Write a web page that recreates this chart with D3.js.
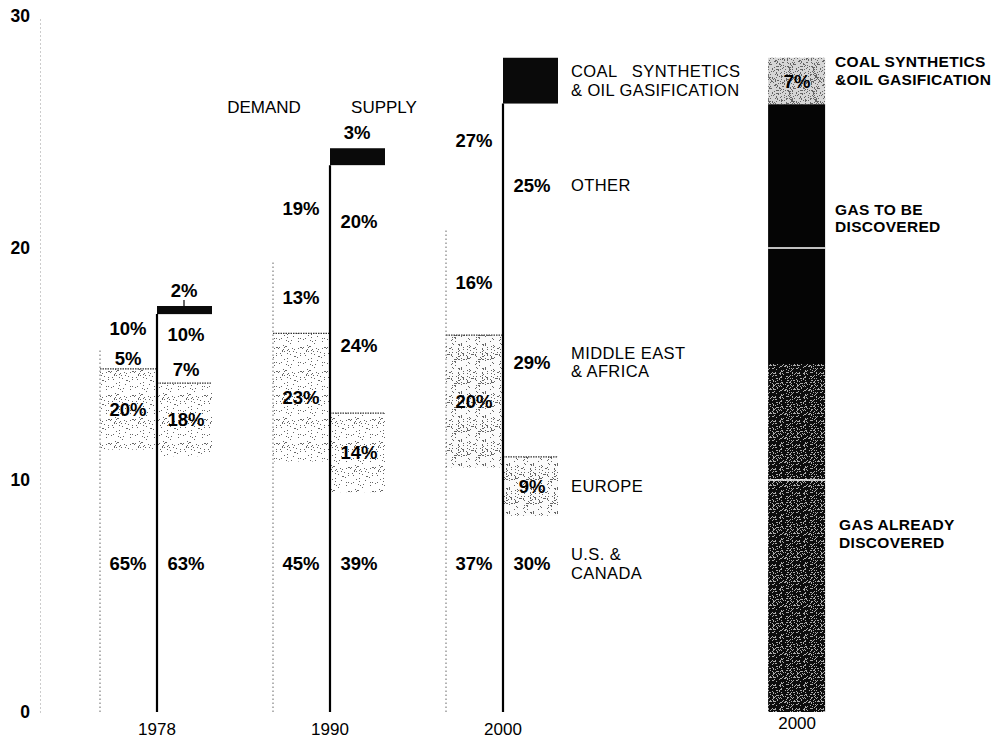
<!DOCTYPE html>
<html><head><meta charset="utf-8">
<script src="https://cdn.jsdelivr.net/npm/d3@7/dist/d3.min.js"></script>
<style>
body{margin:0;background:#fff;}
svg{display:block;}
text{font-family:"Liberation Sans",Arial,Helvetica,sans-serif;fill:#000;white-space:pre;}
</style></head><body>
<svg id="chart" width="1004" height="744"></svg>
<script>
// ---------- data ----------
const years = ["1978", "1990", "2000"];
const demandTotals = [17.4, 24.0, 28.5];
const supplyTotals = [17.5, 24.3, 28.2];
const demandShares = [[65, 20, 5, 10], [45, 23, 13, 19], [37, 20, 16, 27]];
const supplyShares = [[63, 18, 7, 10, 2], [39, 14, 24, 20, 3], [30, 9, 29, 25, 7]];
const supplyRegions = [["U.S. &", "CANADA"], ["EUROPE"], ["MIDDLE EAST", "& AFRICA"], ["OTHER"], ["COAL   SYNTHETICS", "& OIL GASIFICATION"]];
const resourceYear = "2000";
const resourceNames = [["GAS ALREADY", "DISCOVERED"], ["GAS TO BE", "DISCOVERED"], ["COAL SYNTHETICS", "&OIL GASIFICATION"]];
const resourceValues = [15.0, 11.2, 2.0];
const resourceShareLabels = [null, null, "7%"];
const yTicks = [0, 10, 20, 30];
const headers = ["DEMAND", "SUPPLY"];
const columnIndex = [0, 1, 2, 3.7]; // three year pairs + resource bar

// ---------- setup ----------
const svg = d3.select("#chart");
const y = d3.scaleLinear().domain([0, 30]).range([712, 16]);
const x = d3.scaleLinear().domain([0, 1]).range([157, 330]);
const bw = 57;
const PCT = 18.5, LAB = 16.5, LEAD = 18.5;

// textures
const defs = svg.append("defs");
function hash(i, s) { let h = (i * 374761393 + s * 668265263) >>> 0; h = (h ^ (h >>> 13)) * 1274126177 >>> 0; return (h ^ (h >>> 16)) >>> 0; }
function stipple(id, bg, dot, count, size, seed) {
  const p = defs.append("pattern").attr("id", id).attr("patternUnits", "userSpaceOnUse")
    .attr("width", size).attr("height", size);
  p.append("rect").attr("width", size).attr("height", size).attr("fill", bg);
  for (let i = 0; i < count; i++) {
    p.append("rect").attr("x", hash(i, seed) % size).attr("y", hash(i, seed + 7) % size)
      .attr("width", 1).attr("height", 1).attr("fill", dot);
  }
}
stipple("light", "#fff", "#666", 44, 24, 3);
stipple("lightDense", "#fbfbfb", "#666", 80, 24, 11);
stipple("dark", "#0c0c0c", "#aaa", 150, 24, 5);
stipple("coal", "#d6d6d6", "#666", 170, 24, 9);

// axis
const axis = d3.axisLeft(y).tickValues(yTicks).tickSize(0).tickPadding(10);
const gA = svg.append("g").attr("transform", "translate(40,0)").call(axis);
gA.select(".domain").attr("stroke", "#999").attr("stroke-dasharray", "1,3").attr("stroke-width", 1);
gA.selectAll(".tick text").attr("font-size", 17.5).attr("font-weight", "bold").attr("fill", "#000")
  .style("font-family", "'Liberation Sans',Arial,sans-serif");

function stack(total, shares) {
  let acc = 0;
  return shares.map(s => { const v = total * s / 100; const seg = { s, y0: acc, y1: acc + v }; acc += v; return seg; });
}
const pct = s => s + "%";

years.forEach((yr, i) => {
  const c = x(columnIndex[i]);
  const g = svg.append("g");
  const dem = stack(demandTotals[i], demandShares[i]);
  const sup = stack(supplyTotals[i], supplyShares[i]);

  // demand: stippled Europe segment
  const e = dem[1];
  g.append("rect").attr("x", c - bw).attr("width", bw).attr("y", y(e.y1)).attr("height", y(e.y0) - y(e.y1))
    .attr("fill", i === 2 ? "url(#lightDense)" : "url(#light)");
  g.append("line").attr("x1", c - bw).attr("x2", c).attr("y1", y(e.y1)).attr("y2", y(e.y1))
    .attr("stroke", "#333").attr("stroke-width", 1.2).attr("stroke-dasharray", "1.5,1");
  g.append("line").attr("x1", c - bw).attr("x2", c - bw).attr("y1", y(0)).attr("y2", y(dem[2].y1))
    .attr("stroke", "#666").attr("stroke-width", 1).attr("stroke-dasharray", "1.5,2.5");
  dem.forEach((d, k) => {
    const v = k === 0 ? 6.4 : (d.y0 + d.y1) / 2;
    g.append("text").attr("x", c - 29).attr("y", y(v)).attr("dy", "0.36em").attr("text-anchor", "middle")
      .attr("font-size", PCT).attr("font-weight", "bold").text(pct(d.s));
  });

  // supply
  const se = sup[1];
  g.append("rect").attr("x", c).attr("width", bw - 2).attr("y", y(se.y1)).attr("height", y(se.y0) - y(se.y1))
    .attr("fill", i === 2 ? "url(#lightDense)" : "url(#light)");
  g.append("line").attr("x1", c).attr("x2", c + bw - 2).attr("y1", y(se.y1)).attr("y2", y(se.y1))
    .attr("stroke", "#333").attr("stroke-width", 1.2).attr("stroke-dasharray", "1.5,1");
  const top = sup[4];
  g.append("rect").attr("x", c).attr("width", bw - 2).attr("y", y(top.y1)).attr("height", y(top.y0) - y(top.y1))
    .attr("fill", "#0a0a0a");
  g.append("line").attr("x1", c).attr("x2", c).attr("y1", y(0)).attr("y2", y(top.y0))
    .attr("stroke", "#000").attr("stroke-width", 2.2);
  sup.forEach((d, k) => {
    if (k === 4) {
      if (i === 2) return;
      g.append("text").attr("x", c + 27).attr("y", y(d.y1) - 9).attr("text-anchor", "middle")
        .attr("font-size", PCT).attr("font-weight", "bold").text(pct(d.s));
      if (y(d.y0) - y(d.y1) < 12) g.append("line").attr("x1", c + 27).attr("x2", c + 27)
        .attr("y1", y(d.y1) - 6).attr("y2", y(d.y1)).attr("stroke", "#000").attr("stroke-width", 1.2);
      return;
    }
    const v = k === 0 ? 6.4 : (d.y0 + d.y1) / 2;
    g.append("text").attr("x", c + 29).attr("y", y(v)).attr("dy", "0.36em").attr("text-anchor", "middle")
      .attr("font-size", PCT).attr("font-weight", "bold").text(pct(d.s));
  });

  // region labels beside 2000 supply
  if (i === 2) {
    sup.forEach((d, k) => {
      const lines = supplyRegions[k];
      const v = k === 0 ? 6.4 : (d.y0 + d.y1) / 2;
      const y0 = y(v) - (lines.length - 1) * LEAD / 2;
      lines.forEach((l, j) => g.append("text").attr("x", c + 68).attr("y", y0 + j * LEAD).attr("dy", "0.36em")
        .attr("font-size", LAB).attr("letter-spacing", 0.4).text(l));
    });
  }

  // year label
  svg.append("text").attr("x", c).attr("y", y(0) + 23).attr("text-anchor", "middle")
    .attr("font-size", 17).text(yr);
});

// headers
headers.forEach((h, k) => {
  svg.append("text").attr("x", x(1) + (k === 0 ? -66 : 54)).attr("y", 113).attr("text-anchor", "middle")
    .attr("font-size", 17).text(h);
});

// resource bar (2000)
const rc = x(columnIndex[3]);
const res = stack(d3.sum(resourceValues), resourceValues.map(v => v / d3.sum(resourceValues) * 100));
const resFills = ["url(#dark)", "#050505", "url(#coal)"];
const gr = svg.append("g");
res.forEach((d, k) => {
  gr.append("rect").attr("x", rc - 29).attr("width", 57).attr("y", y(d.y1)).attr("height", y(d.y0) - y(d.y1))
    .attr("fill", resFills[k]);
});
[10, 20].forEach(t => {
  gr.append("line").attr("x1", rc - 29).attr("x2", rc + 28).attr("y1", y(t)).attr("y2", y(t))
    .attr("stroke", "#fff").attr("stroke-width", 1.5);
});
res.forEach((d, k) => {
  if (resourceShareLabels[k]) {
    gr.append("text").attr("x", rc).attr("y", y((d.y0 + d.y1) / 2)).attr("dy", "0.36em")
      .attr("text-anchor", "middle").attr("font-size", PCT).attr("font-weight", "bold").attr("fill", "#111")
      .text(resourceShareLabels[k]);
  }
  const lines = resourceNames[k];
  const v = k === 2 ? d.y1 - 0.35 : (k === 1 ? (d.y0 + d.y1) / 2 + 0.9 : (d.y0 + d.y1) / 2 + 0.4);
  lines.forEach((l, j) => gr.append("text").attr("x", rc + 38 + (k === 0 ? 4 : 0)).attr("y", y(v) + 1.5 + j * 17.5)
    .attr("font-size", 15.5).attr("font-weight", "bold").attr("letter-spacing", 0.3).text(l));
});
svg.append("text").attr("x", rc).attr("y", y(0) + 17).attr("text-anchor", "middle")
  .attr("font-size", 17).text(resourceYear);
</script>
</body></html>
